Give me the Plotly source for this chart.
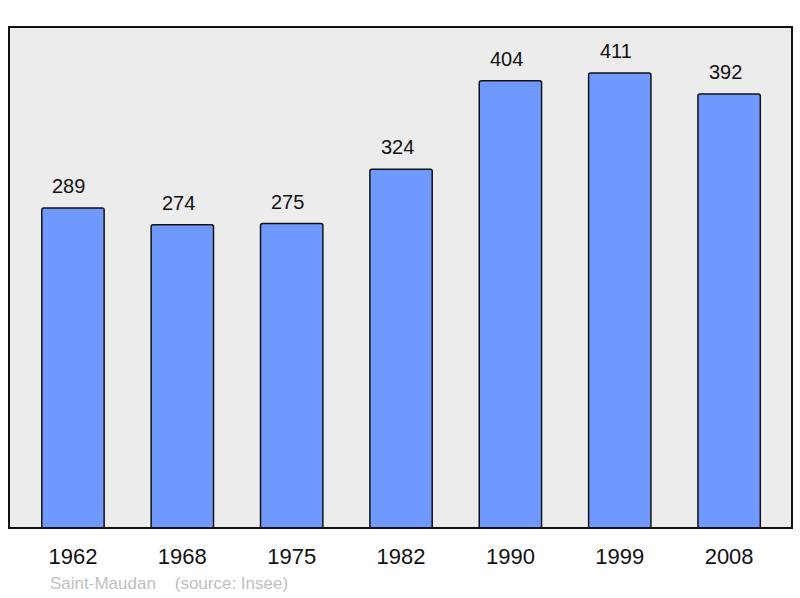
import plotly.graph_objects as go

years = ["1962", "1968", "1975", "1982", "1990", "1999", "2008"]
population = [289, 274, 275, 324, 404, 411, 392]
commune = "Saint-Maudan"
source = "(source: Insee)"

fig = go.Figure()
fig.add_trace(go.Bar(
    x=years, y=population, width=0.57,
    marker=dict(color="#7099ff", line=dict(color="#111111", width=1.5), cornerradius=2),
    hoverinfo="x+y",
))
for i, v in enumerate(population):
    fig.add_annotation(x=i, y=v, text=str(v), showarrow=False, yanchor="bottom",
                       yshift=9, xshift=-4, font=dict(size=20, color="#111111"))

fig.add_shape(type="rect", xref="paper", yref="paper", x0=0, y0=0, x1=1, y1=1,
              line=dict(color="#111111", width=2), layer="above")

fig.add_annotation(xref="paper", yref="paper", x=(48-9)/783, y=-(583-528)/501,
                   xanchor="left", yanchor="middle", showarrow=False,
                   text=commune + "    " + source,
                   font=dict(size=17, color="#c0c0c0"))

fig.update_layout(
    width=800, height=598,
    margin=dict(l=9, r=8, t=27, b=70),
    paper_bgcolor="white", plot_bgcolor="#ececec",
    font=dict(family="Liberation Sans, Arial, sans-serif", color="#111111"),
    xaxis=dict(type="category", range=[-0.585, 6.575], showgrid=False, zeroline=False,
               tickfont=dict(size=22), ticks="", ticklen=0, ticklabelstandoff=13),
    yaxis=dict(range=[0, 452.6], showgrid=False, zeroline=False, showticklabels=False),
    showlegend=False,
)
fig.write_html("out.html", config={"displayModeBar": False},
               post_script="document.body.style.margin='0';document.body.style.overflow='hidden';")
